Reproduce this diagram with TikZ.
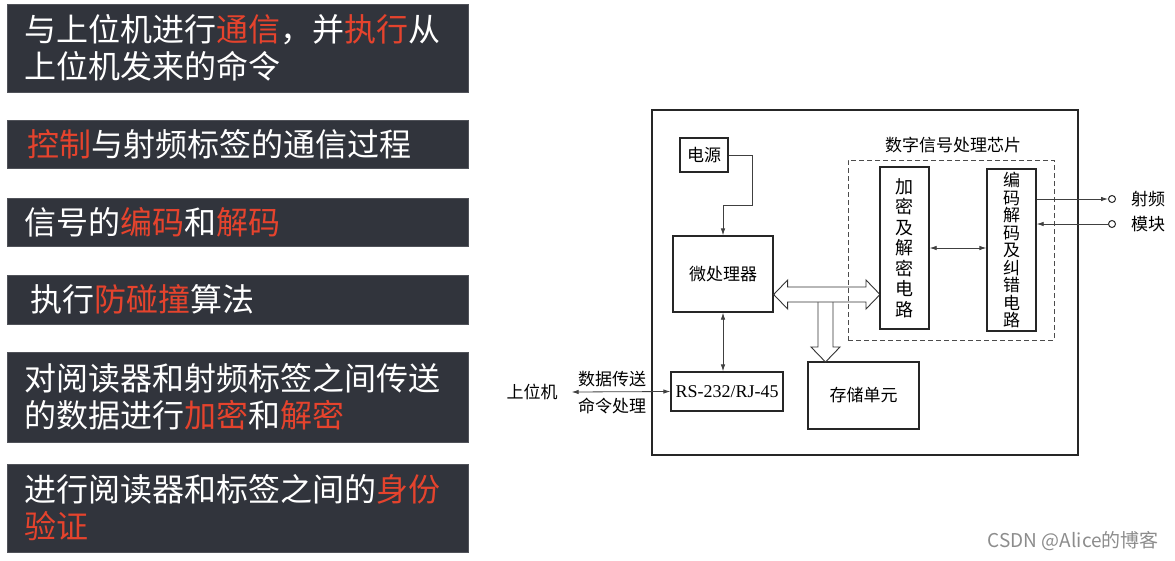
\documentclass[tikz,border=0pt]{standalone}
\usepackage{fontspec}
\setmainfont{Noto Sans CJK SC}
\newfontfamily\latinserif{Liberation Serif}
\usepackage{tikz}
\usetikzlibrary{positioning,arrows.meta,calc}

\definecolor{barbg}{RGB}{49,52,60}
\definecolor{hotred}{RGB}{229,67,45}
\newcommand{\redword}[1]{\textcolor{hotred}{#1}}

\begin{document}
\begin{tikzpicture}[
        x=1pt, y=-1pt,
        bar/.style={fill=barbg, draw=barbg!85!white, line width=0.6pt, text=white,
            text width=427pt, align=left, inner xsep=17pt, inner ysep=0pt,
            font=\fontsize{32}{37}\selectfont},
        blk/.style={draw=black!85, line width=1.3pt, fill=white, inner sep=0pt,
            font=\fontsize{17}{20}\selectfont},
        lbl/.style={inner sep=0pt, font=\fontsize{17}{20}\selectfont},
        line/.style={draw=black!75, line width=0.8pt},
        arr/.style={line, -{Latex[length=7pt,width=4.5pt]}},
        arr2/.style={line, {Latex[length=7pt,width=4.5pt]}-{Latex[length=7pt,width=4.5pt]}},
        hollow/.style={draw=black!80, line width=0.9pt, fill=white},
        port/.style={circle, draw=black!85, line width=1pt, fill=white, minimum size=7pt, inner sep=0pt}
    ]
    \useasboundingbox (0,0) rectangle (1175,560);

    % left column of task bars
    \foreach \y/\h/\txt [count=\i] in {
            48/88/{与上位机进行\redword{通信}，并\redword{执行}从\\上位机发来的命令},
            144/48/{\hspace*{3pt}\redword{控制}与射频标签的通信过程},
            222/48/{信号的\redword{编码}和\redword{解码}},
            299.5/49/{\hspace*{6pt}执行\redword{防碰撞}算法},
            397/90/{对阅读器和射频标签之间传送\\的数据进行\redword{加密}和\redword{解密}},
            508/88/{进行阅读器和标签之间的\redword{身份}\\\redword{验证}}
            } {
        \node[bar, minimum height=\h] (bar\i) at (237.5,\y) {\txt};
    }

    % reader block diagram
    \node[blk, minimum width=426pt, minimum height=345pt] (board) at (865,282.5) {};
    \node[blk, minimum width=48pt, minimum height=34pt] (power) at (704,155) {电源};
    \node[blk, minimum width=100pt, minimum height=76pt] (mcu) at (723,274) {微处理器};
    \node[blk, minimum width=112pt, minimum height=39pt,
        font=\latinserif\fontsize{18}{20}\selectfont] (rs) at (727,391.5) {RS-232/RJ-45};
    \node[blk, minimum width=111pt, minimum height=67pt] (mem) at (863.5,395.5) {存储单元};

    % data bus and branch to the memory
    \coordinate (busL) at (mcu.east |- 0,294.5);
    \coordinate (busR) at (904.5,294.5);
    \draw[hollow] (818,302) -- (818,347) -- (811,347) -- (825.5,362) -- (840,347)
        -- (833,347) -- (833,302);
    \draw[hollow] (busL) -- ++(14,-14.5) -- ++(0,7) -- (866,287) -- (866,280)
        -- (880,294.5) -- (866,309) -- (866,302) -- ($(busL)+(14,7.5)$)
        -- ++(0,7) -- cycle;

    \node[draw=black!70, line width=0.9pt, dash pattern=on 5pt off 3pt,
        minimum width=206pt, minimum height=180pt] (dsp) at (951,250) {};
    \node[lbl] (dsptitle) at (953,145) {数字信号处理芯片};
    \node[blk, text width=49pt, align=center, minimum height=162pt,
        font=\fontsize{18}{20.5}\selectfont] (crypt) at (904.5,248) {加\\密\\及\\解\\密\\电\\路};
    \node[blk, text width=49pt, align=center, minimum height=162pt,
        font=\fontsize{17}{17.5}\selectfont] (codec) at (1011.5,250) {编\\码\\解\\码\\及\\纠\\错\\电\\路};

    \coordinate (pwrbend) at (752,205);
    \draw[arr] (power.east) -| (pwrbend) -| (mcu.north);
    \draw[arr2] (mcu.south) -- (mcu.south |- rs.north);
    \draw[arr2] (crypt.east |- 0,248) -- (codec.west |- 0,248);

    % radio frequency module ports
    \node[port] (rfout) at (1112,199) {};
    \node[port] (rfin) at (1112,224) {};
    \draw[arr] (codec.east |- rfout) -- (rfout.west);
    \draw[arr] (rfin.west) -- (codec.east |- rfin);
    \node[lbl, anchor=west] (rflbl1) at (1131,199) {射频};
    \node[lbl, anchor=west] (rflbl2) at (1131,224) {模块};

    % host link
    \node[lbl] (host) at (532,392) {上位机};
    \draw[arr2] ([xshift=14pt]host.east) -- (rs.west);
    \node[lbl] (sendlbl) at (612,379) {数据传送};
    \node[lbl] (cmdlbl) at (612,406) {命令处理};

    \node[lbl, text=black!45, anchor=east, font=\fontsize{19}{22}\selectfont] (mark) at (1159,541) {CSDN @Alice的博客};
\end{tikzpicture}
\end{document}
